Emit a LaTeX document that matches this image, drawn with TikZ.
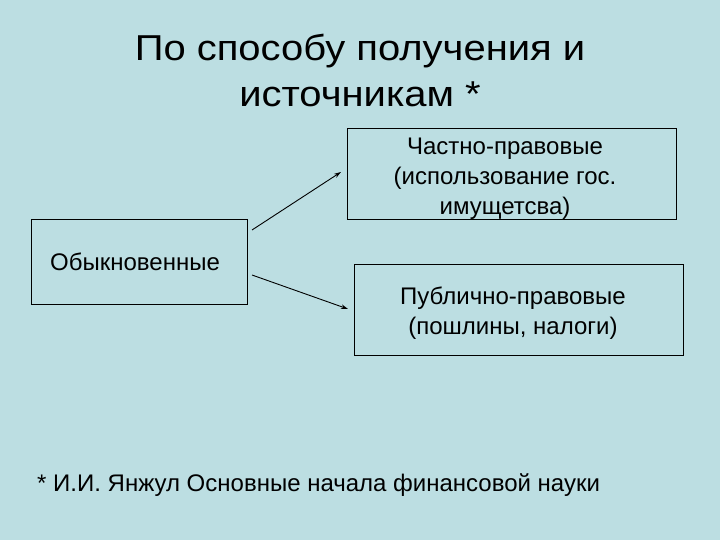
\documentclass[tikz,border=0pt]{standalone}
\usepackage{fontspec}
\setmainfont{Liberation Sans}
\usetikzlibrary{arrows.meta}
\definecolor{bg}{RGB}{188,222,226}
\begin{document}
\begin{tikzpicture}[x=1pt,y=-1pt,
  box/.style={draw=black,line width=0.8pt,inner sep=0pt},
  boxtext/.style={align=center,font=\fontsize{24}{30}\selectfont,inner sep=0pt},
  arr/.style={line width=0.9pt,-{Stealth[length=7pt,width=4.5pt]}}]
\fill[bg] (0,0) rectangle (720,540);
\useasboundingbox (0,0) rectangle (720,540);
% title
\node[align=center,font=\fontsize{36}{46}\selectfont,inner sep=0pt] (title) at (360,70)
  {\scalebox{1.11}[1]{По способу получения и}\\\scalebox{1.11}[1]{источникам *}};
% boxes
\draw[box] (31,219) rectangle (247,304);
\node[boxtext] (ob) at (135,262) {Обыкновенные};
\coordinate (obR1) at (252,230);
\coordinate (obR2) at (252,275);
\draw[box] (347,128) rectangle (676,219);
\node[boxtext] (ch) at (505,179) {Частно-правовые\\(использование гос.\\имущетсва)};
\coordinate (chL) at (341,172);
\draw[box] (354,264) rectangle (683,355);
\node[boxtext] (pu) at (513,313) {Публично-правовые\\(пошлины, налоги)};
\coordinate (puL) at (348,309);
% arrows
\draw[arr] (obR1) -- (chL);
\draw[arr] (obR2) -- (puL);
% footnote
\node[anchor=west,font=\fontsize{24}{30}\selectfont,inner sep=0pt] (fn) at (37,485)
  {* И.И. Янжул Основные начала финансовой науки};
\end{tikzpicture}
\end{document}
